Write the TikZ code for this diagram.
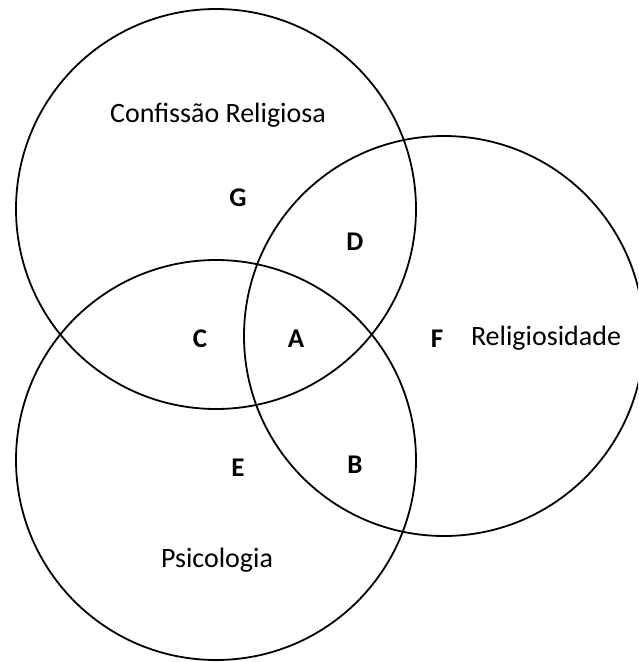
\documentclass[tikz,border=0pt]{standalone}
\usepackage{fontspec}
\setmainfont{Carlito}
\tikzset{
  set/.style={draw=black, line width=1.8pt},
  setname/.style={font=\fontsize{28}{32}\selectfont},
  region/.style={font=\fontsize{27}{31}\selectfont\bfseries}
}

\begin{document}
\begin{tikzpicture}[x=1pt, y=-1pt]
        \useasboundingbox (0,0) rectangle (638,662);
        \clip (0,0) rectangle (638,662);

        % draw the sets
        \draw[set] (216,209) circle (200);
        \draw[set] (444,336) circle (200);
        \draw[set] (216,460) circle (200);

        % names
        \node[setname] (confissao) at (218,115) {Confissão Religiosa};
        \node[setname] (religiosidade) at (546,338) {Religiosidade};
        \node[setname] (psicologia) at (217,560) {Psicologia};

        % regions
        \node[region] (g) at (238,198) {G};
        \node[region] (d) at (355,242) {D};
        \node[region] (c) at (200,339) {C};
        \node[region] (a) at (296,339) {A};
        \node[region] (f) at (437,339) {F};
        \node[region] (b) at (355,465) {B};
        \node[region] (e) at (238,468) {E};

    \end{tikzpicture}
\end{document}
